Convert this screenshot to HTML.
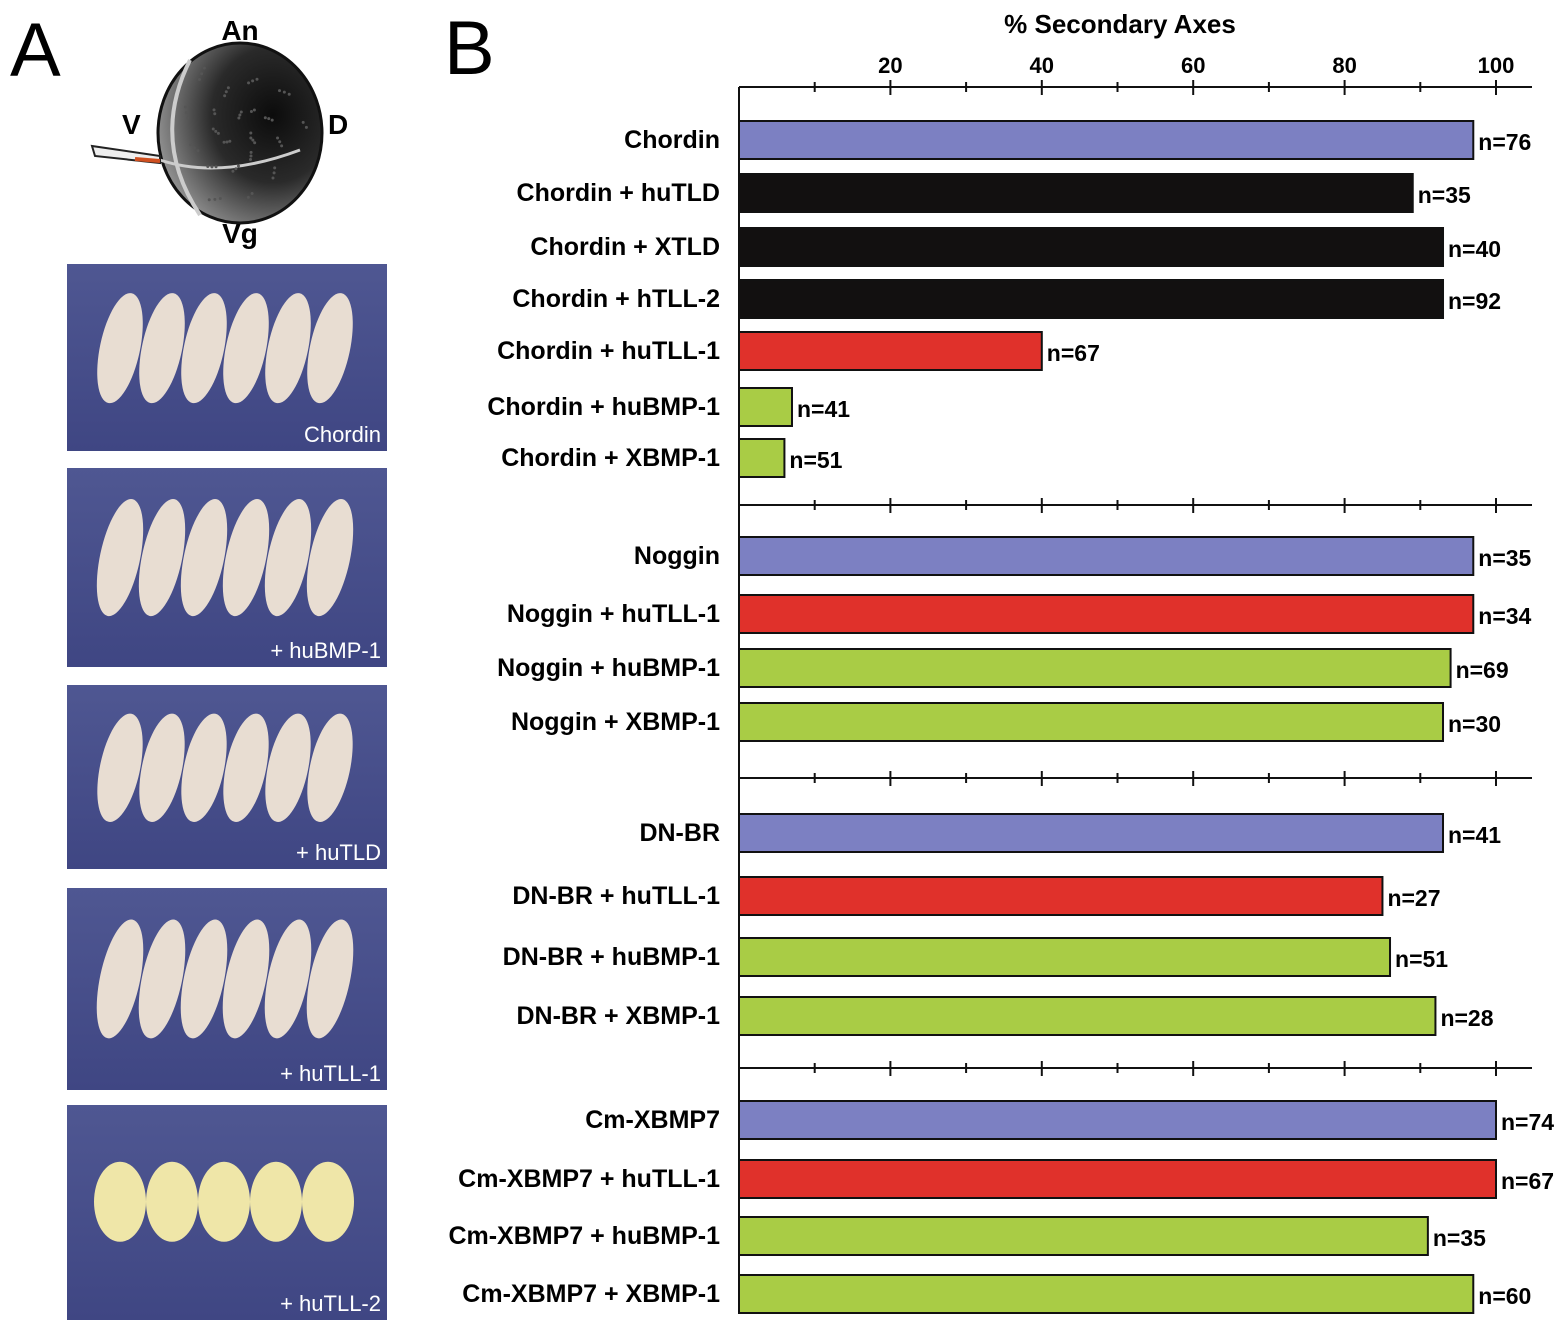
<!DOCTYPE html>
<html><head><meta charset="utf-8"><style>
body{margin:0;background:#fff}
svg{display:block}
text{font-family:"Liberation Sans",sans-serif;font-weight:bold}
</style></head><body>
<svg id="fig" width="1560" height="1334" viewBox="0 0 1560 1334">
<defs>
<radialGradient id="egg" cx="0.7" cy="0.4" r="0.75"><stop offset="0" stop-color="#0c0c0c"/><stop offset="0.5" stop-color="#2a2a2a"/><stop offset="1" stop-color="#9a9a9a"/></radialGradient>
<linearGradient id="photo" x1="0" y1="0" x2="0" y2="1"><stop offset="0" stop-color="#4f5792"/><stop offset="1" stop-color="#3f4683"/></linearGradient>
</defs>
<text x="10" y="76" font-size="76" style="font-weight:normal">A</text>
<text x="444" y="74" font-size="76" style="font-weight:normal">B</text>
<g>
<ellipse cx="240" cy="133" rx="82" ry="90" fill="url(#egg)" stroke="#111" stroke-width="3"/>
<path d="M190 60 Q150 140 200 215" stroke="#ccc" stroke-width="4" fill="none"/>
<path d="M160 160 Q220 180 300 150" stroke="#ccc" stroke-width="3" fill="none"/>
<g id="stipple"></g>
<polygon points="92,146 95,156 160,163 160,156" fill="#eee" stroke="#222" stroke-width="2"/>
<line x1="135" y1="159" x2="160" y2="161" stroke="#d05020" stroke-width="4"/>
<text x="240" y="40" font-size="28" text-anchor="middle">An</text>
<text x="122" y="134" font-size="28">V</text>
<text x="328" y="134" font-size="28">D</text>
<text x="240" y="243" font-size="28" text-anchor="middle">Vg</text>
</g>
<g id="photos"></g>
<g id="chart"></g>
</svg>
<script>
const NS="http://www.w3.org/2000/svg";
function mk(tag,attrs,parent){const e=document.createElementNS(NS,tag);for(const k in attrs)e.setAttribute(k,attrs[k]);parent.appendChild(e);return e;}
// stipple dots on egg (decorative)
const st=document.getElementById('stipple');
for(let a=0;a<60;a++){const ang=a*2.39,rr=12+(a*37%65);mk('circle',{cx:240+Math.cos(ang)*rr*0.9,cy:133+Math.sin(ang)*rr,r:1.5,fill:'#555'},st);}
// photos
const photoLabels=["Chordin","+ huBMP-1","+ huTLD","+ huTLL-1","+ huTLL-2"];
const photoTops=[264,468,685,888,1105];
const photoBots=[451,667,869,1090,1320];
const pg=document.getElementById('photos');
photoLabels.forEach((lab,i)=>{
  const g=mk('g',{},pg);
  
  
  const y0=photoTops[i],y1=photoBots[i];
  mk('rect',{x:67,y:y0,width:320,height:y1-y0,fill:'url(#photo)'},g);
  const n=i==4?5:6;
  for(let k=0;k<n;k++){
    const cx=120+k*(i==4?52:42),cy=y0+(y1-y0)*0.45;
    mk('ellipse',{cx:cx,cy:cy,rx:i==4?26:20,ry:i==4?40:(y1-y0)*0.3,fill:i==4?'#efe6a8':'#e8ddd2',transform:'rotate('+(i==4?0:12)+' '+cx+' '+cy+')'},g);
  }
  const t=mk('text',{x:381,y:y1-9,'font-size':22,'text-anchor':'end',fill:'#fff'},g);
  t.style.fontWeight='normal';
  t.textContent=lab;
});
// chart data
const labels=["Chordin","Chordin + huTLD","Chordin + XTLD","Chordin + hTLL-2","Chordin + huTLL-1","Chordin + huBMP-1","Chordin + XBMP-1",
"Noggin","Noggin + huTLL-1","Noggin + huBMP-1","Noggin + XBMP-1",
"DN-BR","DN-BR + huTLL-1","DN-BR + huBMP-1","DN-BR + XBMP-1",
"Cm-XBMP7","Cm-XBMP7 + huTLL-1","Cm-XBMP7 + huBMP-1","Cm-XBMP7 + XBMP-1"];
const values=[97,89,93,93,40,7,6, 97,97,94,93, 93,85,86,92, 100,100,91,97];
const nLabels=["n=76","n=35","n=40","n=92","n=67","n=41","n=51","n=35","n=34","n=69","n=30","n=41","n=27","n=51","n=28","n=74","n=67","n=35","n=60"];
const kinds=["b","k","k","k","r","g","g","b","r","g","g","b","r","g","g","b","r","g","g"];
const barTops=[121,174,228,280,332,388,439,537,595,649,703,814,877,938,997,1101,1160,1217,1275];
const tickLabels=[20,40,60,80,100];
const axisYs=[87,505,778,1068];
const colors={b:'#7c80c2',k:'#121010',r:'#e0312b',g:'#a9cc45'};
const X0=739,X100=1496;
const xs=v=>X0+(X100-X0)*v/100;
const ch=document.getElementById('chart');
const t0=mk('text',{x:1120,y:33,'font-size':26,'text-anchor':'middle'},ch);


t0.textContent='% Secondary Axes';
tickLabels.forEach(v=>{
  const t=mk('text',{x:xs(v),y:73,'font-size':22,'text-anchor':'middle'},ch);
  
  
  t.textContent=v;
});
mk('line',{x1:X0,y1:87,x2:X0,y2:1312,stroke:'#111','stroke-width':2},ch);
axisYs.forEach((y,ai)=>{
  const l=mk('line',{x1:X0,y1:y,x2:1532,y2:y,stroke:'#111','stroke-width':2},ch);
  
  
  for(let v=10;v<=100;v+=10){
    const maj=v%20==0;
    mk('line',{x1:xs(v),y1:y-(maj?7:5),x2:xs(v),y2:y+(maj?8:5),stroke:'#111','stroke-width':2},ch);
  }
});
labels.forEach((lab,i)=>{
  const y=barTops[i],h=38;
  const r=mk('rect',{x:X0,y:y,width:xs(values[i])-X0,height:h,fill:colors[kinds[i]],stroke:'#111','stroke-width':2},ch);
  
  
  const t=mk('text',{x:720,y:y+h/2+8,'font-size':25,'text-anchor':'end'},ch);
  
  
  t.textContent=lab;
  const n=mk('text',{x:xs(values[i])+5,y:y+h/2+10,'font-size':23},ch);
  
  
  n.textContent=nLabels[i];
});
</script>
</body></html>
